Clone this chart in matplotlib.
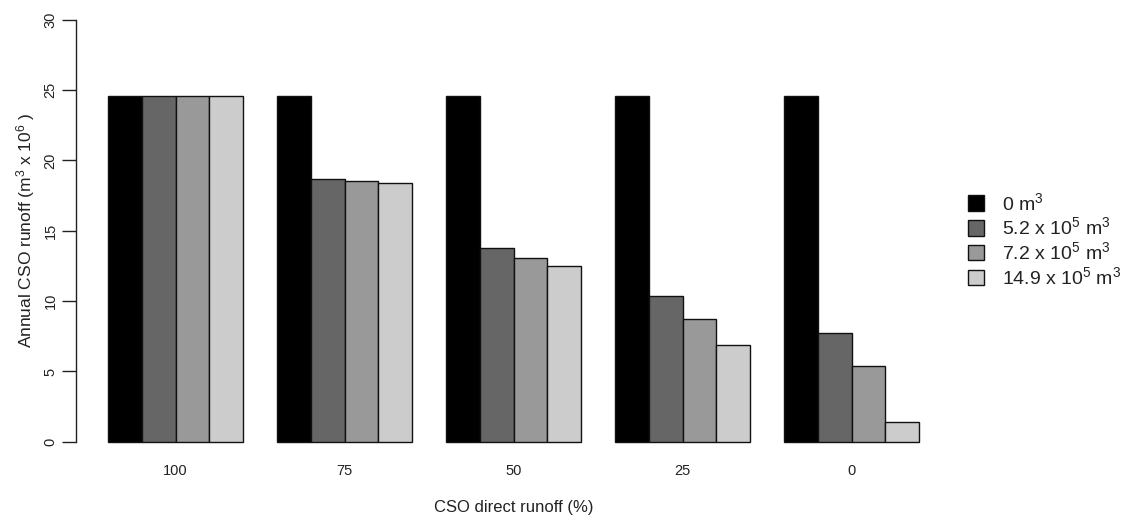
import matplotlib
matplotlib.use('Agg')
import matplotlib.pyplot as plt
from matplotlib.patches import Patch

plt.rcParams['font.family'] = ['Liberation Sans', 'DejaVu Sans']
plt.rcParams['mathtext.fontset'] = 'custom'
plt.rcParams['mathtext.rm'] = 'Liberation Sans'
plt.rcParams['mathtext.it'] = 'Liberation Sans:italic'

# data
groups = ['100', '75', '50', '25', '0']
storage = [r'0 m$^3$', r'5.2 x 10$^5$ m$^3$', r'7.2 x 10$^5$ m$^3$', r'14.9 x 10$^5$ m$^3$']
runoff_0 = [24.6, 24.6, 24.6, 24.6, 24.6]
runoff_52 = [24.6, 18.65, 13.75, 10.35, 7.7]
runoff_72 = [24.6, 18.55, 13.05, 8.75, 5.4]
runoff_149 = [24.6, 18.4, 12.5, 6.85, 1.4]
series = [runoff_0, runoff_52, runoff_72, runoff_149]
colors = ['#000000', '#666666', '#999999', '#cccccc']

W, H = 1131, 520
fig = plt.figure(figsize=(W / 100, H / 100), dpi=100)
ax = fig.add_axes([75.6 / W, 61.3 / H, (951.6 - 75.6) / W, (458.7 - 2.7) / H])

n = len(series)
for j, (vals, c) in enumerate(zip(series, colors)):
    xs = [1 + (n + 1) * g + j for g in range(len(groups))]
    ax.bar(xs, vals, width=1, align='edge', color=c, edgecolor='#111111', linewidth=1.0)

ax.set_xlim(0.04, 25.96)
ax.set_ylim(-1.2, 31.2)

for s in ['top', 'right', 'bottom']:
    ax.spines[s].set_visible(False)
ax.spines['left'].set_bounds(0, 30)
ax.spines['left'].set_linewidth(1.0)
ax.spines['left'].set_color('#222222')

ax.set_yticks([0, 5, 10, 15, 20, 25, 30])
ax.tick_params(axis='y', length=10, width=1.0, color='#222222', pad=3,
               labelsize=10.5, labelrotation=90, labelcolor='#222222')
for lab in ax.get_yticklabels():
    lab.set_va('center')

ax.set_xticks([1 + (n + 1) * g + n / 2 for g in range(len(groups))])
ax.set_xticklabels(groups)
ax.tick_params(axis='x', length=0, pad=4, labelsize=10.5, labelcolor='#222222')

ax.set_xlabel('CSO direct runoff (%)', fontsize=12, color='#222222', labelpad=16)
ax.set_ylabel(r'Annual CSO runoff (m$^3$ x 10$^6$ )', fontsize=12.5, color='#222222', labelpad=5)

handles = [Patch(facecolor=c, edgecolor='#111111', linewidth=1.0) for c in colors]
fig.legend(handles, storage, loc='center left', bbox_to_anchor=(958 / W, 1 - 240 / H),
           frameon=False, fontsize=14, handlelength=0.85, handleheight=0.85,
           handletextpad=0.9, labelspacing=0.15, borderpad=0, labelcolor='#222222')

fig.savefig('out.png', dpi=100)
